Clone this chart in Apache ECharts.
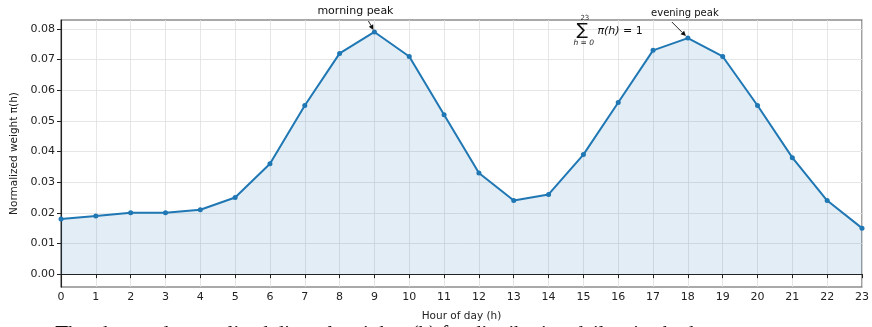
<!DOCTYPE html>
<html>
<head>
<meta charset="utf-8">
<script src="https://cdn.jsdelivr.net/npm/echarts@6/dist/echarts.min.js"></script>
<style>
  html, body { margin: 0; padding: 0; background: #fff; }
  #chart { width: 872px; height: 327px; }
</style>
</head>
<body>
<div id="chart"></div>
<script>
// Hour of day (0..23) and the normalized diurnal weight for each hour
const hours = [0,1,2,3,4,5,6,7,8,9,10,11,12,13,14,15,16,17,18,19,20,21,22,23];
const weights = [0.018,0.019,0.020,0.020,0.021,0.025,0.036,0.055,0.072,0.079,0.071,0.052,
                 0.033,0.024,0.026,0.039,0.056,0.073,0.077,0.071,0.055,0.038,0.024,0.015];
const yTicks = [0,0.01,0.02,0.03,0.04,0.05,0.06,0.07,0.08];
const morningPeakHour = 9;
const eveningPeakHour = 18;

const FONT = 'DejaVu Sans';
const BLUE = '#1f77b4';

const chart = echarts.init(document.getElementById('chart'), null, { renderer: 'canvas' });

const points = hours.map((h, i) => [h, weights[i]]);

chart.setOption({
  animation: false,
  backgroundColor: '#fff',
  grid: {
    left: 61, right: 10, top: 20, bottom: 40,
    show: true, borderColor: '#555', borderWidth: 1.1, backgroundColor: 'transparent'
  },
  xAxis: {
    type: 'value', min: 0, max: 23, interval: 1,
    name: 'Hour of day (h)', nameLocation: 'middle', nameGap: 24,
    nameTextStyle: { fontFamily: FONT, fontSize: 10.5, color: '#222' },
    axisLine: { lineStyle: { color: '#222', width: 1.1 } },
    axisTick: { length: 4, lineStyle: { color: '#222' } },
    axisLabel: { fontFamily: FONT, fontSize: 11, color: '#222', margin: 5 },
    splitLine: { show: true, lineStyle: { color: '#e0e0e0', width: 0.8 } }
  },
  yAxis: {
    type: 'value', min: -0.0042, max: 0.0829,
    name: 'Normalized weight π(h)', nameLocation: 'middle', nameGap: 30,
    nameTextStyle: { fontFamily: FONT, fontSize: 10.5, color: '#222' },
    axisLine: { show: true, lineStyle: { color: '#222', width: 1.1 } },
    axisTick: { show: true, length: 4, lineStyle: { color: '#222' }, customValues: yTicks },
    axisLabel: {
      fontFamily: FONT, fontSize: 11, color: '#222', margin: 6,
      customValues: yTicks,
      formatter: v => v.toFixed(2)
    },
    splitLine: { show: true, lineStyle: { color: '#e0e0e0', width: 0.8 } }
  },
  series: [{
    type: 'line',
    data: points,
    symbol: 'circle',
    symbolSize: 5,
    showSymbol: true,
    lineStyle: { color: BLUE, width: 2 },
    itemStyle: { color: BLUE },
    areaStyle: { color: 'rgba(31,119,180,0.13)', opacity: 1, origin: 0 },
    clip: false,
    z: 3
  }]
});

// Annotation arrows and labels, placed from the data coordinates of the peaks
function px(x, y) { return chart.convertToPixel({ gridIndex: 0 }, [x, y]); }

function arrow(from, to) {
  const dx = to[0] - from[0], dy = to[1] - from[1];
  const len = Math.hypot(dx, dy);
  const ux = dx / len, uy = dy / len;
  const hl = 5, hw = 2.5;
  const bx = to[0] - ux * hl, by = to[1] - uy * hl;
  return [
    { type: 'line', shape: { x1: from[0], y1: from[1], x2: bx, y2: by },
      style: { stroke: '#111', lineWidth: 0.9 }, z: 10 },
    { type: 'polygon', shape: { points: [to, [bx - uy * hw, by + ux * hw], [bx + uy * hw, by - ux * hw]] },
      style: { fill: '#111' }, z: 10 }
  ];
}

const mPk = px(morningPeakHour, weights[hours.indexOf(morningPeakHour)]);
const ePk = px(eveningPeakHour, weights[hours.indexOf(eveningPeakHour)]);

const graphics = [];
graphics.push({ type: 'text', x: mPk[0] - 19, y: 11, z: 10,
  style: { text: 'morning peak', fontFamily: FONT, fontSize: 11, fill: '#111', align: 'center', verticalAlign: 'middle' } });
graphics.push(...arrow([mPk[0] - 6, 21], [mPk[0] - 1, mPk[1] - 2]));

graphics.push({ type: 'text', x: ePk[0] - 3, y: 13, z: 10,
  style: { text: 'evening peak', fontFamily: FONT, fontSize: 10, fill: '#111', align: 'center', verticalAlign: 'middle' } });
graphics.push(...arrow([ePk[0] - 16, 22], [ePk[0] - 2, ePk[1] - 2]));

// Normalization identity
const sx = px(15, 0)[0];
graphics.push({ type: 'text', x: sx - 7, y: 31, z: 10,
  style: { text: '∑', fontFamily: FONT, fontSize: 17, fill: '#111', align: 'left', verticalAlign: 'middle' } });
graphics.push({ type: 'text', x: sx - 3, y: 18, z: 10,
  style: { text: '23', fontFamily: FONT, fontSize: 7, fill: '#333', align: 'left', verticalAlign: 'middle' } });
graphics.push({ type: 'text', x: sx - 10, y: 43, z: 10,
  style: { text: 'h = 0', fontFamily: FONT, fontSize: 7.5, fontStyle: 'italic', fill: '#222', align: 'left', verticalAlign: 'middle' } });
graphics.push({ type: 'text', x: sx + 14, y: 31, z: 10,
  style: {
    text: '{i|π(h)} = 1',
    fontFamily: FONT, fontSize: 11, fill: '#111', align: 'left', verticalAlign: 'middle',
    rich: { i: { fontFamily: FONT, fontSize: 11, fontStyle: 'italic', fill: '#111' } }
  } });

// Caption line below the chart
graphics.push({ type: 'text', x: 32, y: 324, z: 10,
  style: { text: '●  The observed normalized diurnal weight π(h) for distributing daily trips by hour', fontFamily: 'Liberation Serif', fontSize: 21, fill: '#111', align: 'left', verticalAlign: 'top' } });

chart.setOption({ graphic: graphics });
</script>
</body>
</html>
